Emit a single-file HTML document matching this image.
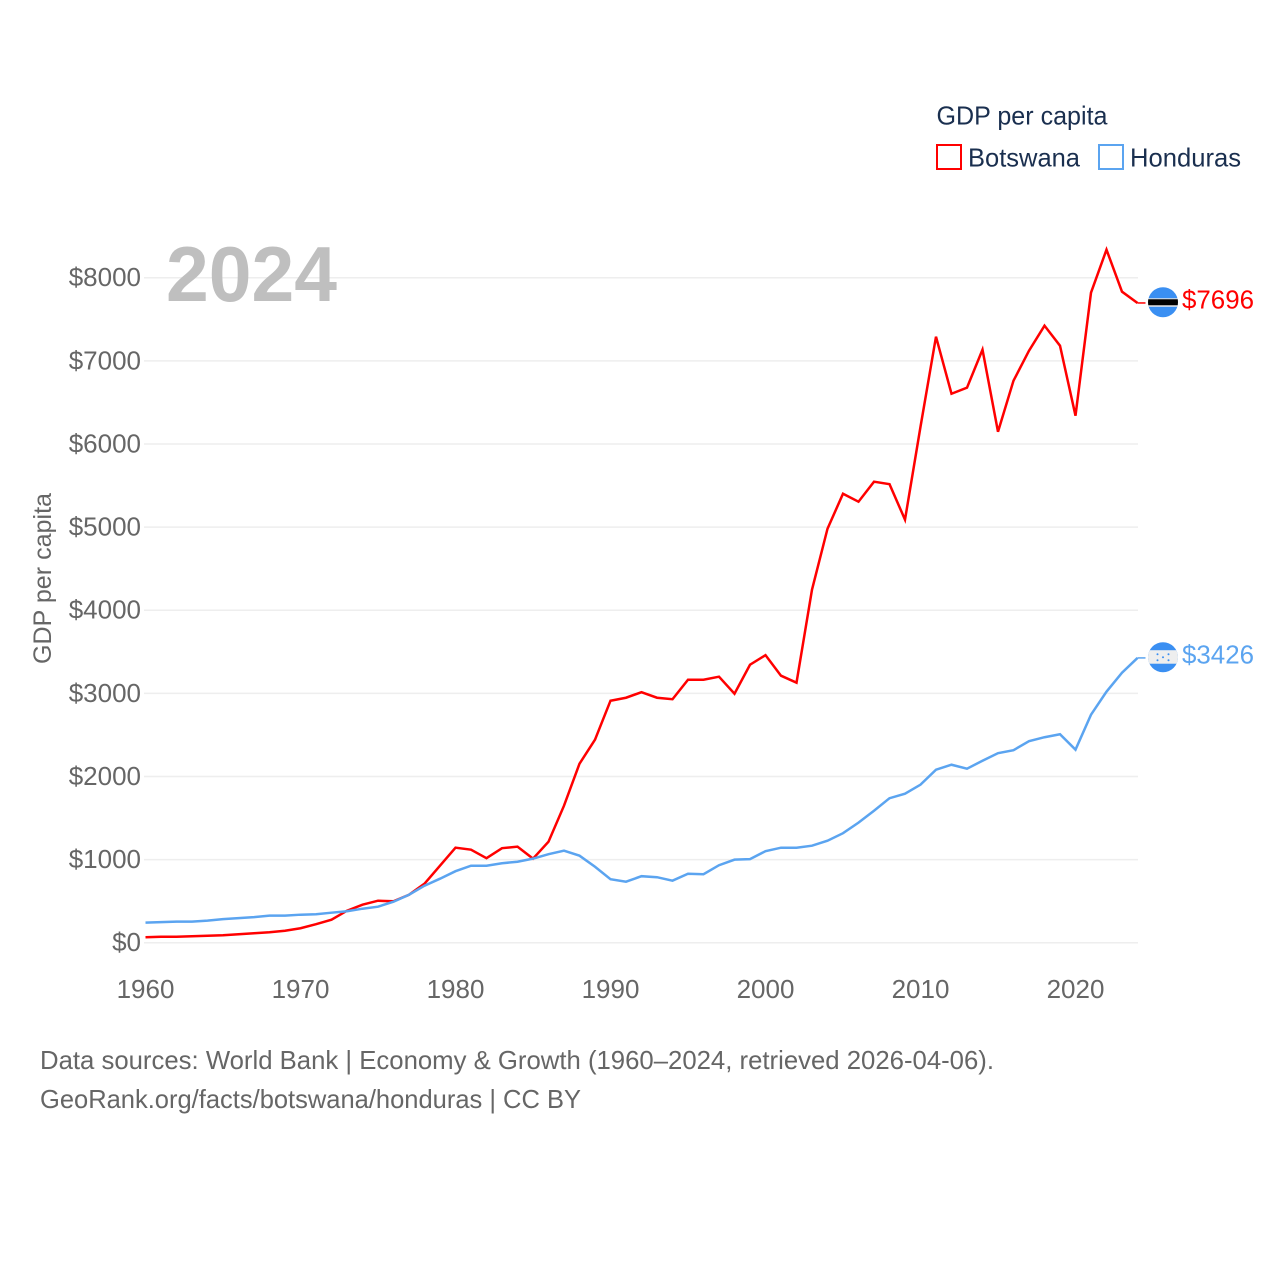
<!DOCTYPE html>
<html lang="en">
<head>
<meta charset="utf-8">
<title>GDP per capita: Botswana vs Honduras</title>
<style>
html,body{margin:0;padding:0;background:#fff;}
svg{display:block;font-family:"Liberation Sans",sans-serif;}
</style>
</head>
<body>
<svg id="chart" xmlns="http://www.w3.org/2000/svg" width="1280" height="1280" viewBox="0 0 1280 1280">
  <rect x="0" y="0" width="1280" height="1280" fill="#ffffff"/>
  <defs>
    <clipPath id="flag-clip-botswana"><circle cx="0" cy="0" r="15"/></clipPath>
    <clipPath id="flag-clip-honduras"><circle cx="0" cy="0" r="15"/></clipPath>
  </defs>
  <g id="grid"></g>
  <text x="166" y="301" font-size="78" font-weight="700" fill="#bfbfbf" textLength="171" lengthAdjust="spacingAndGlyphs">2024</text>
  <g id="y-ticks"></g>
  <g id="x-ticks"></g>
  <text transform="translate(51 578.5) rotate(-90)" text-anchor="middle" font-size="25" fill="#666666" textLength="171" lengthAdjust="spacingAndGlyphs">GDP per capita</text>
  <g id="series"></g>
  <g id="end-markers"></g>

  <g>
    <text x="936.5" y="124.5" font-size="26" fill="#1a2f4f" textLength="171" lengthAdjust="spacingAndGlyphs">GDP per capita</text>
    <g>
      <rect x="937" y="145" width="24" height="24" fill="none" stroke="#ff0000" stroke-width="2"/>
      <text x="968" y="166.5" font-size="26" fill="#1a2f4f" textLength="112" lengthAdjust="spacingAndGlyphs">Botswana</text>
    </g>
    <g>
      <rect x="1099" y="145" width="24" height="24" fill="none" stroke="#5ba4f0" stroke-width="2"/>
      <text x="1130" y="166.5" font-size="26" fill="#1a2f4f" textLength="111" lengthAdjust="spacingAndGlyphs">Honduras</text>
    </g>
  </g>

  <g>
    <text x="40" y="1069" font-size="26" fill="#666666" textLength="954" lengthAdjust="spacingAndGlyphs">Data sources: World Bank | Economy &amp; Growth (1960–2024, retrieved 2026-04-06).</text>
    <text x="40" y="1108" font-size="26" fill="#666666" textLength="541" lengthAdjust="spacingAndGlyphs">GeoRank.org/facts/botswana/honduras | CC BY</text>
  </g>
</svg>
<script>
const startYear = 1960;
const yTickValues = [0, 1000, 2000, 3000, 4000, 5000, 6000, 7000, 8000];
const xTickValues = [1960, 1970, 1980, 1990, 2000, 2010, 2020];
const botswanaValues = [66,72,72,78,84,90,102,114,126,144,174,223,277,385,457,505,499,577,710,926,1143,1119,1017,1137,1155,1011,1215,1648,2153,2442,2911,2947,3014,2947,2929,3164,3164,3200,2995,3344,3459,3212,3128,4247,4980,5401,5305,5546,5516,5089,6207,7290,6604,6677,7134,6147,6761,7122,7423,7182,6340,7820,8337,7832,7696];
const hondurasValues = [241,247,253,253,265,283,295,307,325,325,337,343,361,379,409,433,493,577,686,770,860,926,926,956,974,1011,1065,1107,1047,914,764,734,800,788,746,830,824,932,999,1005,1101,1143,1143,1167,1227,1317,1444,1588,1738,1792,1901,2081,2141,2093,2189,2280,2316,2424,2472,2508,2322,2743,3020,3248,3426];

const SVG_NS = 'http://www.w3.org/2000/svg';
function xScale(year) { return 145.5 + (year - 1960) * 15.5; }
function yScale(value) { return 942.7 - value * 0.083125; }
function make(tag, attrs, parent) {
  const el = document.createElementNS(SVG_NS, tag);
  for (const k in attrs) el.setAttribute(k, attrs[k]);
  parent.appendChild(el);
  return el;
}

const gridGroup = document.getElementById('grid');
const yTickGroup = document.getElementById('y-ticks');
const xTickGroup = document.getElementById('x-ticks');
const seriesGroup = document.getElementById('series');
const markerGroup = document.getElementById('end-markers');

yTickValues.forEach(function (v) {
  const line = make('line', {x1: 144, x2: 1138, y1: yScale(v), y2: yScale(v), stroke: '#eeeeee', 'stroke-width': 1.5}, gridGroup);
  
  
  const label = make('text', {x: 141, y: yScale(v) + 8.5, 'text-anchor': 'end', 'font-size': 26, fill: '#666666'}, yTickGroup);
  
  
  label.textContent = '$' + v;
});

xTickValues.forEach(function (year) {
  const label = make('text', {x: xScale(year), y: 998, 'text-anchor': 'middle', 'font-size': 26, fill: '#666666'}, xTickGroup);
  
  
  label.textContent = year;
});

function drawSeries(values, color, key) {
  const pts = values.map(function (v, i) { return xScale(startYear + i).toFixed(2) + ',' + yScale(v).toFixed(2); });
  const lastX = xScale(startYear + values.length - 1);
  const lastY = yScale(values[values.length - 1]);
  const line = make('polyline', {points: pts.join(' '), fill: 'none', stroke: color, 'stroke-width': 2.5, 'stroke-linejoin': 'miter'}, seriesGroup);
  
  
  const stub = make('line', {x1: lastX, y1: lastY, x2: lastX + 8, y2: lastY, stroke: color, 'stroke-width': 1.5}, markerGroup);
  
  
  const label = make('text', {x: lastX + 44.5, y: lastY + 5.5, 'font-size': 26, fill: color, textLength: 72, lengthAdjust: 'spacingAndGlyphs'}, markerGroup);
  
  
  label.textContent = '$' + values[values.length - 1];
  const flag = make('g', {transform: 'translate(' + (lastX + 25.5) + ' ' + (lastY - 0.7) + ')', 'clip-path': 'url(#flag-clip-' + key + ')'}, markerGroup);
  
  
  return flag;
}

const botswanaFlag = drawSeries(botswanaValues, '#ff0000', 'botswana');
make('rect', {x: -16, y: -16, width: 32, height: 32, fill: '#3a8ff2'}, botswanaFlag);
make('rect', {x: -16, y: -4, width: 32, height: 8.5, fill: '#e8e8e8'}, botswanaFlag);
make('rect', {x: -16, y: -3, width: 32, height: 6, fill: '#000000'}, botswanaFlag);

const hondurasFlag = drawSeries(hondurasValues, '#5ba4f0', 'honduras');
make('rect', {x: -16, y: -16, width: 32, height: 32, fill: '#3a8ff2'}, hondurasFlag);
make('rect', {x: -16, y: -7, width: 32, height: 13.5, fill: '#eeeeee'}, hondurasFlag);
[[-5.5, -3], [5.5, -3], [0, 0], [-5.5, 3], [5.5, 3]].forEach(function (d) {
  make('circle', {cx: d[0], cy: d[1], r: 1, fill: '#3a8ff2'}, hondurasFlag);
});
</script>
</body>
</html>
